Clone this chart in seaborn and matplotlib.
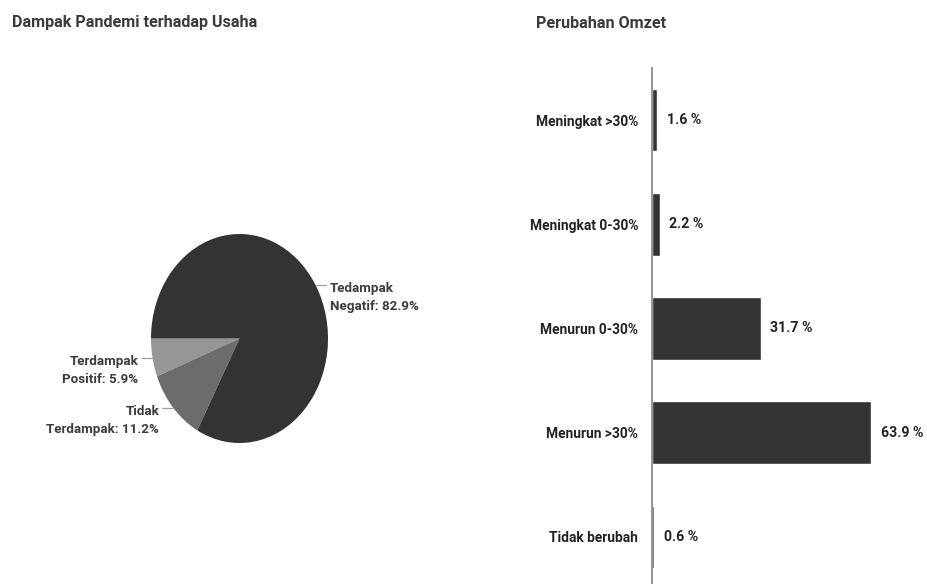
import numpy as np
import pandas as pd
import matplotlib.pyplot as plt
import seaborn as sns

# data
pie_labels = ['Terdampak\nPositif', 'Tidak\nTerdampak', 'Tedampak\nNegatif']
pie_values = [5.9, 11.2, 82.9]
pie_colors = ['#969696', '#6c6c6c', '#333333']

omzet_cats = ['Meningkat >30%', 'Meningkat 0-30%', 'Menurun 0-30%', 'Menurun >30%', 'Tidak berubah']
omzet_vals = [1.6, 2.2, 31.7, 63.9, 0.6]

sns.set_style('white')
plt.rcParams['font.family'] = ['Roboto', 'DejaVu Sans']

fig = plt.figure(figsize=(9.27, 5.84), dpi=100)
W, H = 927, 584

def box(x0, y0, x1, y1):
    # pixel box -> figure coords
    return [x0 / W, 1 - y1 / H, (x1 - x0) / W, (y1 - y0) / H]

fig.text(12 / W, 1 - 23 / H, 'Dampak Pandemi terhadap Usaha', fontsize=11.6,
         color='#3a3a3a', va='center', ha='left', fontweight='bold')
fig.text(536 / W, 1 - 23 / H, 'Perubahan Omzet', fontsize=11.6,
         color='#3a3a3a', va='center', ha='left', fontweight='bold')

# 1. PIE
ax1 = fig.add_axes(box(151, 234, 328, 443))
wedges, _ = ax1.pie(pie_values, colors=pie_colors, startangle=180, counterclock=True,
                    wedgeprops=dict(linewidth=0))
ax1.set_aspect('auto')
ax1.set_xlim(-1, 1)
ax1.set_ylim(-1, 1)
ax1.axis('off')

for w, lab, v in zip(wedges, pie_labels, pie_values):
    mid = np.deg2rad((w.theta1 + w.theta2) / 2)
    x, y = np.cos(mid), np.sin(mid)
    side = 1 if x > 0 else -1
    x2 = x + side * 0.12
    ax1.plot([x, x2], [y, y], color='#a0a0a0', lw=0.9, clip_on=False)
    ax1.annotate(f'{lab}: {v}%', xy=(x2, y), xytext=(side * 2.5, 2),
                 textcoords='offset points', ha='left' if side > 0 else 'right',
                 va='top', fontsize=9.6, color='#3c3c3c', linespacing=1.5,
                 fontweight='bold', annotation_clip=False)

# 2. BAR
df = pd.DataFrame({'cat': omzet_cats, 'val': omzet_vals})
ax2 = fig.add_axes(box(652, 68, 927, 589))
sns.barplot(data=df, x='val', y='cat', orient='h', color='#333333', width=0.6,
            saturation=1, ax=ax2)
ax2.set_xlim(0, 80.2)
ax2.set_ylim(4.5, -0.5)
ax2.set_xlabel('')
ax2.set_ylabel('')
ax2.set_xticks([])
ax2.tick_params(axis='y', length=0, pad=10, labelsize=9.9, labelcolor='#222222')
for t in ax2.get_yticklabels():
    t.set_fontweight('bold')
for s in ['top', 'right', 'bottom']:
    ax2.spines[s].set_visible(False)
ax2.spines['left'].set_color('#8a8a8a')
ax2.spines['left'].set_linewidth(1.3)
ax2.bar_label(ax2.containers[0], fmt='%.1f %%', padding=7, fontsize=10.2,
              color='#222222', fontweight='bold')

fig.savefig('out.png', dpi=100)
